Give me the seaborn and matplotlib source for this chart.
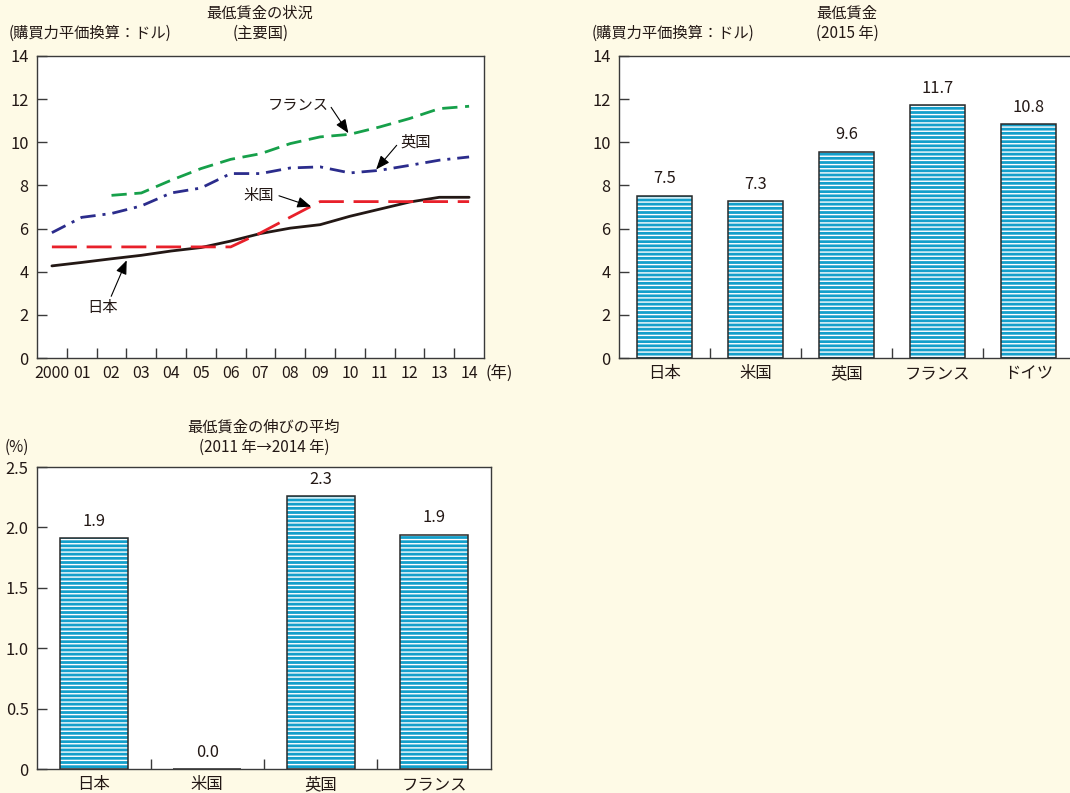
import numpy as np
import pandas as pd
import matplotlib
matplotlib.use("Agg")
import matplotlib.pyplot as plt
import seaborn as sns

# ---------------- data ----------------
year_labels = ['2000', '01', '02', '03', '04', '05', '06', '07', '08', '09',
               '10', '11', '12', '13', '14']
japan = [4.27, 4.43, 4.60, 4.76, 4.96, 5.12, 5.42, 5.77, 6.02, 6.18, 6.57, 6.90, 7.23, 7.45, 7.45]
usa = [5.15, 5.15, 5.15, 5.15, 5.15, 5.15, 5.15, 5.80, 6.53, 7.25, 7.25, 7.25, 7.25, 7.25, 7.25]
france = [np.nan, np.nan, 7.54, 7.65, 8.24, 8.78, 9.21, 9.47, 9.94, 10.25, 10.37, 10.71, 11.10, 11.56, 11.67]
uk = [5.81, 6.52, 6.70, 7.05, 7.65, 7.88, 8.55, 8.55, 8.81, 8.86, 8.58, 8.70, 8.93, 9.17, 9.32]
series_names = ['日本', '米国', 'フランス', '英国']

wage2015_cats = ['日本', '米国', '英国', 'フランス', 'ドイツ']
wage2015 = [7.52, 7.26, 9.57, 11.72, 10.84]

growth_cats = ['日本', '米国', '英国', 'フランス']
growth = [1.91, 0.0, 2.26, 1.94]

# ---------------- style ----------------
sns.set_theme(style="ticks")
plt.rcParams['font.family'] = ['Noto Sans CJK JP', 'DejaVu Sans']
plt.rcParams['lines.scale_dashes'] = False
plt.rcParams['hatch.linewidth'] = 1.0
plt.rcParams['axes.unicode_minus'] = False

BG = '#FEFAE6'
TXT = '#231815'
SPINE = '#3a3a3a'
CYAN = '#139FCB'
TICK_FS = 11.8
LBL_FS = 11

fig = plt.figure(figsize=(10.7, 7.93), dpi=100, facecolor=BG)
W, H = 1070.0, 793.0


def axes_px(left, top, right, bottom):
    return fig.add_axes([left / W, 1 - bottom / H, (right - left) / W, (bottom - top) / H])


def style_axes(ax):
    ax.set_facecolor('white')
    for s in ax.spines.values():
        s.set_visible(True)
        s.set_color(SPINE)
        s.set_linewidth(1.0)
    ax.tick_params(axis='y', which='major', direction='in', length=7, width=1,
                   color=SPINE, labelcolor=TXT, labelsize=TICK_FS, pad=6,
                   left=True, right=False)
    ax.tick_params(axis='x', which='major', length=0, labelcolor=TXT,
                   labelsize=TICK_FS, pad=5)
    ax.tick_params(axis='x', which='minor', direction='in', length=7, width=1,
                   color=SPINE, bottom=True, top=False)
    ax.set_xlabel('')
    ax.set_ylabel('')
    ax.grid(False)


def ftext(x, y, s, ha='center', size=LBL_FS):
    fig.text(x / W, 1 - y / H, s, ha=ha, va='center', fontsize=size, color=TXT)


# ---------------- chart 1: lines ----------------
ax1 = axes_px(37, 56, 484, 358)
rows = []
for name, vals in zip(series_names, [japan, usa, france, uk]):
    for i, v in enumerate(vals):
        if not np.isnan(v):
            rows.append({'idx': i, 'value': v, 'country': name})
df_lines = pd.DataFrame(rows)

palette = {'日本': '#231815', '米国': '#E8202A', 'フランス': '#16A04A', '英国': '#2B2C8C'}
dashes = {'日本': '', '米国': (18, 7), 'フランス': (11, 5.5), '英国': (11, 5, 2.2, 5)}
sns.lineplot(data=df_lines, x='idx', y='value', hue='country', style='country',
             palette=palette, dashes=dashes, linewidth=2.0, legend=False,
             ax=ax1, hue_order=series_names, style_order=series_names)

ax1.set_xlim(-0.5, len(year_labels) - 0.5)
ax1.set_ylim(0, 14)
ax1.set_yticks(range(0, 15, 2))
ax1.set_xticks(range(len(year_labels)))
ax1.set_xticklabels(year_labels)
ax1.set_xticks(np.arange(0.5, len(year_labels) - 1, 1), minor=True)
style_axes(ax1)
ax1.tick_params(axis='x', which='major', labelsize=11.5)

arrow_kw = dict(arrowstyle='-|>,head_length=0.7,head_width=0.28', color='black',
                lw=0.8, shrinkA=0, shrinkB=0, mutation_scale=12)
ann = [
    ('フランス', (8.26, 11.72), (9.37, 11.62), (9.95, 10.42)),
    ('英国', (12.22, 10.0), (11.57, 9.86), (10.88, 8.74)),
    ('米国', (6.95, 7.54), (7.62, 7.52), (8.7, 7.02)),
    ('日本', (1.71, 2.36), (1.99, 2.86), (2.51, 4.53)),
]
for label, tpos, tail, head in ann:
    ax1.text(tpos[0], tpos[1], label, ha='center', va='center', fontsize=LBL_FS, color=TXT)
    ax1.annotate('', xy=head, xytext=tail, arrowprops=arrow_kw)

ftext(260, 13, '最低賃金の状況')
ftext(261, 33, '(主要国)')
ftext(9, 33, '(購買力平価換算：ドル)', ha='left')
ftext(499, 373, '(年)', size=TICK_FS)


# ---------------- bar helper ----------------
def hatched_bars(ax, cats, vals):
    sns.barplot(x=cats, y=vals, color=CYAN, width=0.6, ax=ax, saturation=1)
    cont = ax.containers[0]
    for p in cont.patches:
        p.set_facecolor(CYAN)
        p.set_edgecolor('white')
        p.set_linewidth(0)
        p.set_hatch('----')
    sns.barplot(x=cats, y=vals, color='#2a2a2a', width=0.6, ax=ax, fill=False,
                linewidth=1.1, saturation=1)
    ax.bar_label(cont, labels=[f'{v:.1f}' for v in vals], padding=6,
                 fontsize=TICK_FS, color=TXT)
    ax.set_xlim(-0.5, len(cats) - 0.5)
    ax.set_xticks(range(len(cats)))
    ax.set_xticklabels(cats)
    ax.set_xticks(np.arange(0.5, len(cats) - 1, 1), minor=True)


# ---------------- chart 2: 2015 bars ----------------
ax2 = axes_px(619, 56, 1074, 358)
hatched_bars(ax2, wage2015_cats, wage2015)
ax2.set_ylim(0, 14)
ax2.set_yticks(range(0, 15, 2))
style_axes(ax2)
ftext(847, 13, '最低賃金')
ftext(847, 33, '(2015 年)')
ftext(592, 33, '(購買力平価換算：ドル)', ha='left')

# ---------------- chart 3: growth bars ----------------
ax3 = axes_px(37, 467, 491, 769)
hatched_bars(ax3, growth_cats, growth)
ax3.set_ylim(0, 2.5)
ax3.set_yticks([0, 0.5, 1.0, 1.5, 2.0, 2.5])
ax3.set_yticklabels(['0', '0.5', '1.0', '1.5', '2.0', '2.5'])
style_axes(ax3)
ftext(264, 427, '最低賃金の伸びの平均')
ftext(264, 447, '(2011 年→2014 年)')
ftext(5, 447, '(%)', ha='left')

fig.savefig('out.png', dpi=100, facecolor=BG)
